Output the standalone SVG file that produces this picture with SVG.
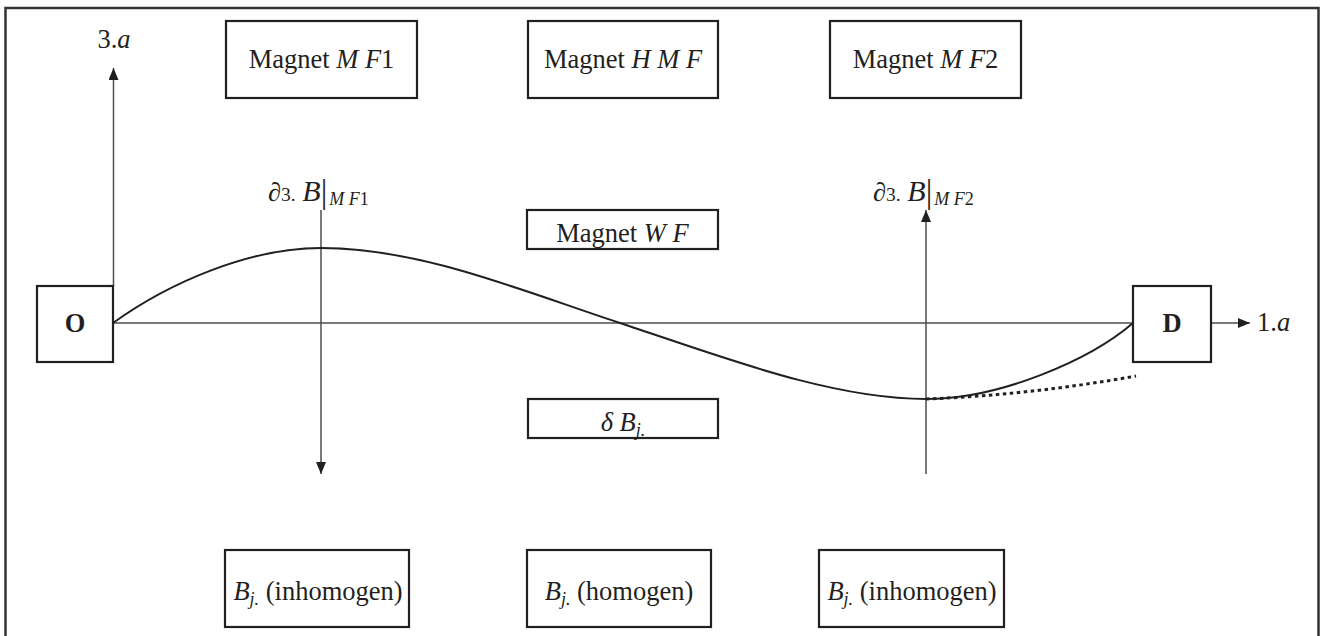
<svg xmlns="http://www.w3.org/2000/svg" width="1321" height="636" viewBox="0 0 1321 636">
<style>
text{font-family:"Liberation Serif","Times New Roman",serif;fill:#231f20;font-size:26.5px}
.box{fill:#fff;stroke:#231f20;stroke-width:2.2}
.ax{stroke:#4d4d4d;stroke-width:1.5;fill:none}
.it{font-style:italic}
.sub{font-size:18px}
.sm{font-size:19.5px}
.b{font-weight:bold}
</style>
<defs>
<marker id="ah" viewBox="0 0 12 10" refX="12" refY="5" markerWidth="12" markerHeight="10" markerUnits="userSpaceOnUse" orient="auto">
<path d="M0,0 L12,5 L0,10 Z" fill="#231f20"/>
</marker>
</defs>
<rect x="0" y="0" width="1321" height="636" fill="#fff"/>
<rect id="frame" x="5.5" y="8" width="1313" height="640" fill="none" stroke="#333" stroke-width="2.5"/>

<g id="connectors">
<line class="ax" x1="113.5" y1="323" x2="1133" y2="323"/>
<line class="ax" x1="113.5" y1="286" x2="113.5" y2="68" marker-end="url(#ah)"/>
<line class="ax" x1="1211" y1="323" x2="1250" y2="323" marker-end="url(#ah)"/>
<line class="ax" x1="321" y1="210" x2="321" y2="474" marker-end="url(#ah)"/>
<line class="ax" x1="926" y1="474" x2="926" y2="210" marker-end="url(#ah)"/>
<path d="M113,323 C170,282 250,248 321,248 C420,248 520,290 620,323 C720,356 830,399 926,399 C1000,399 1090,360 1133,323" fill="none" stroke="#231f20" stroke-width="2"/>
<path d="M926,399 Q1030,395 1136,376" fill="none" stroke="#231f20" stroke-width="3" stroke-dasharray="3.5,3.5"/>
</g>

<g id="label-3a"><text x="114" y="48" text-anchor="middle">3.<tspan class="it">a</tspan></text></g>
<g id="label-1a"><text x="1257" y="331">1.<tspan class="it">a</tspan></text></g>

<g id="magnet-mf1">
<rect class="box" x="226" y="21" width="191" height="77"/>
<text x="321.5" y="68" text-anchor="middle">Magnet <tspan class="it">M F</tspan>1</text>
</g>
<g id="magnet-hmf">
<rect class="box" x="528" y="21" width="190" height="77"/>
<text x="623" y="68" text-anchor="middle">Magnet <tspan class="it">H M F</tspan></text>
</g>
<g id="magnet-mf2">
<rect class="box" x="830" y="21" width="191" height="77"/>
<text x="925.5" y="68" text-anchor="middle">Magnet <tspan class="it">M F</tspan>2</text>
</g>
<g id="magnet-wf">
<rect class="box" x="527" y="210" width="191" height="39"/>
<text x="622.5" y="242" text-anchor="middle">Magnet <tspan class="it">W F</tspan></text>
</g>
<g id="label-mf1">
<text x="268" y="201">∂<tspan class="sm">3.</tspan> <tspan class="it" font-size="30">B</tspan><tspan font-size="33" dy="2">|</tspan><tspan class="sub it" dy="2" dx="2">M F</tspan><tspan class="sub">1</tspan></text>
</g>
<g id="label-mf2">
<text x="873" y="201">∂<tspan class="sm">3.</tspan> <tspan class="it" font-size="30">B</tspan><tspan font-size="33" dy="2">|</tspan><tspan class="sub it" dy="2" dx="2">M F</tspan><tspan class="sub">2</tspan></text>
</g>
<g id="node-O">
<rect class="box" x="37" y="286" width="76" height="76"/>
<text x="75" y="332" text-anchor="middle" class="b">O</text>
</g>
<g id="node-D">
<rect class="box" x="1133" y="286" width="78" height="76"/>
<text x="1172" y="332" text-anchor="middle" class="b">D</text>
</g>
<g id="delta-b">
<rect class="box" x="528" y="399" width="190" height="39"/>
<text x="623" y="431" text-anchor="middle"><tspan class="it">δ B</tspan><tspan class="sub it" dy="5">j.</tspan></text>
</g>
<g id="b-inhom-1">
<rect class="box" x="225" y="550" width="184" height="77"/>
<text x="318" y="600" text-anchor="middle"><tspan class="it">B</tspan><tspan class="sub it" dy="5">j.</tspan><tspan dy="-5"> (inhomogen)</tspan></text>
</g>
<g id="b-hom">
<rect class="box" x="527" y="550" width="184" height="77"/>
<text x="619" y="600" text-anchor="middle"><tspan class="it">B</tspan><tspan class="sub it" dy="5">j.</tspan><tspan dy="-5"> (homogen)</tspan></text>
</g>
<g id="b-inhom-2">
<rect class="box" x="819" y="550" width="185" height="77"/>
<text x="912" y="600" text-anchor="middle"><tspan class="it">B</tspan><tspan class="sub it" dy="5">j.</tspan><tspan dy="-5"> (inhomogen)</tspan></text>
</g>
</svg>
